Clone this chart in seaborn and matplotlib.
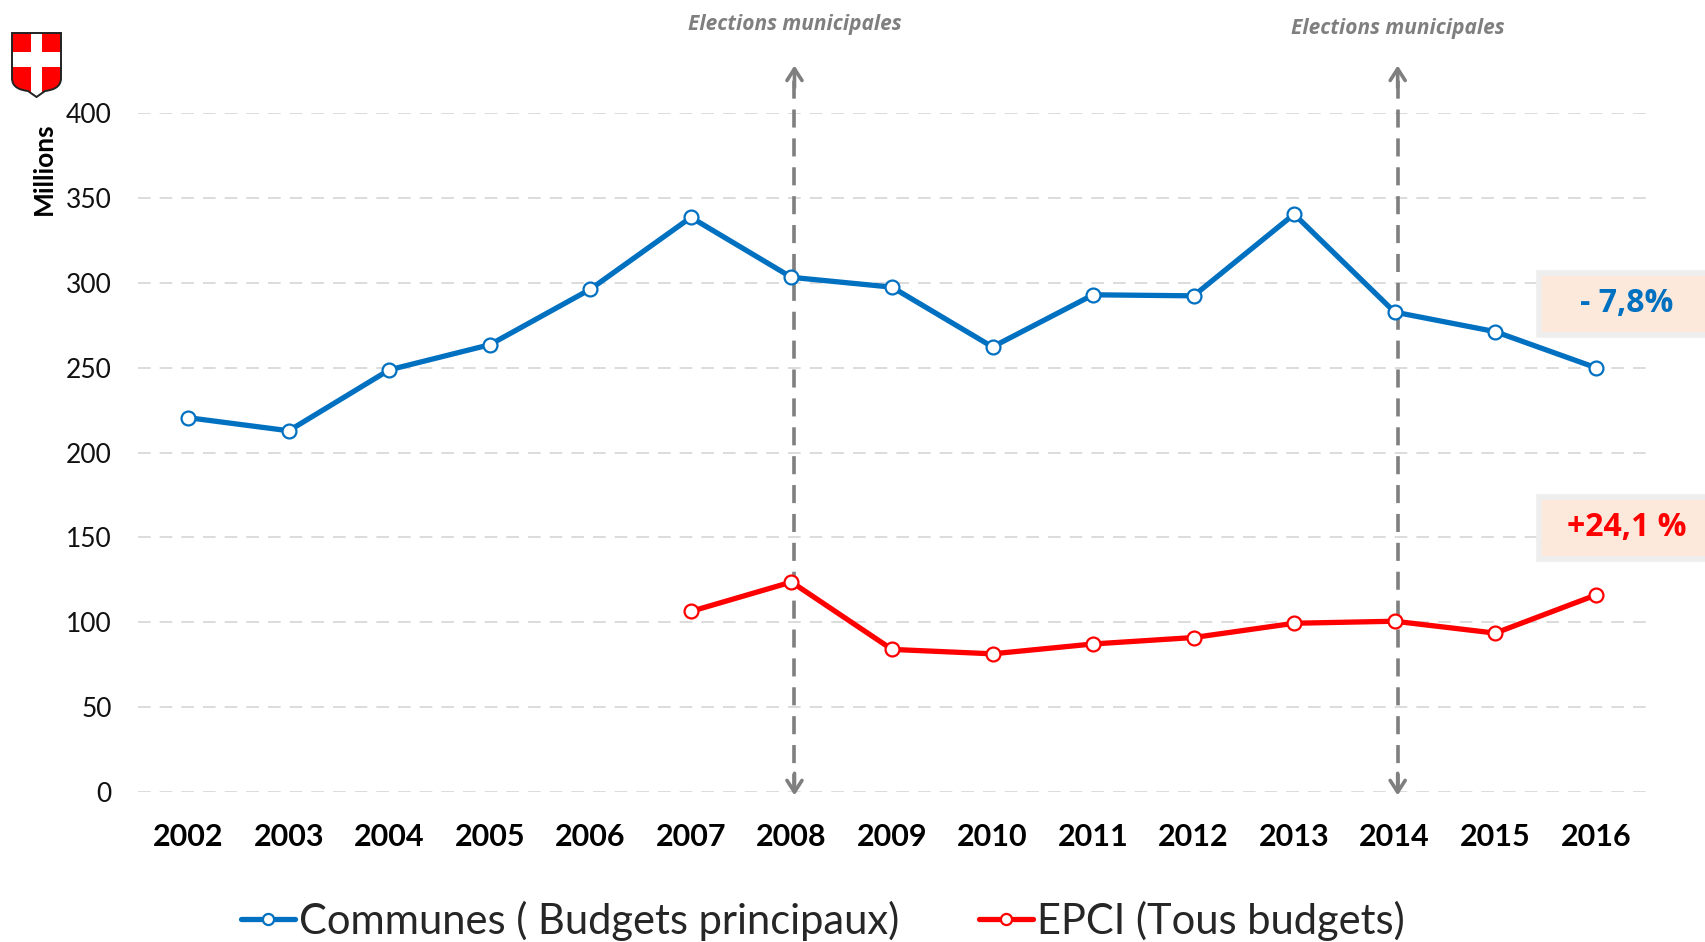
import matplotlib
matplotlib.use("Agg")
import matplotlib.pyplot as plt
from matplotlib.path import Path
from matplotlib.patches import PathPatch, Rectangle
import numpy as np
import pandas as pd
import seaborn as sns

# --- data (millions) ---
years = [2002, 2003, 2004, 2005, 2006, 2007, 2008, 2009, 2010, 2011, 2012, 2013, 2014, 2015, 2016]
communes = [220.5, 212.8, 248.7, 263.5, 296.2, 338.5, 303.2, 297.4, 262.2, 292.9, 292.3, 340.4, 282.7, 271.2, 250.0]
epci_years = [2007, 2008, 2009, 2010, 2011, 2012, 2013, 2014, 2015, 2016]
epci = [106.4, 123.7, 84.0, 81.4, 87.2, 91.0, 99.4, 100.6, 93.6, 116.0]
series_names = ["Communes ( Budgets principaux)", "EPCI (Tous budgets)"]
series_colors = ["#0070C0", "#FF0000"]
election_years = [2008, 2014]
election_label = "Elections municipales"
change_labels = ["- 7,8%", "+24,1 %"]
y_ticks = [0, 50, 100, 150, 200, 250, 300, 350, 400]

sns.set_theme(style="white")
plt.rcParams["font.family"] = ["Lato", "DejaVu Sans"]

W, H = 1706, 942
fig = plt.figure(figsize=(W / 100, H / 100), dpi=100)
ax = fig.add_axes([138 / W, 1 - 792 / H, (1646 - 138) / W, (792 - 113) / H])

df_c = pd.DataFrame({"year": years, "value": communes})
df_e = pd.DataFrame({"year": epci_years, "value": epci})

common = dict(marker="o", markersize=10, markerfacecolor="white",
              markeredgewidth=1.6, linewidth=3.8, zorder=5)
sns.lineplot(data=df_c, x="year", y="value", ax=ax, color=series_colors[0],
             markeredgecolor=series_colors[0], label=series_names[0], **common)
sns.lineplot(data=df_e, x="year", y="value", ax=ax, color=series_colors[1],
             markeredgecolor=series_colors[1], label=series_names[1], **common)

ax.set_xlim(years[0] - 0.5, years[-1] + 0.5)
ax.set_ylim(0, 400)
ax.set_xticks(years)
ax.set_xticklabels([str(y) for y in years], fontsize=22, fontweight="bold", color="black")
ax.set_yticks(y_ticks)
ax.set_yticklabels([str(v) for v in y_ticks], fontsize=19, color="#111111")
ax.tick_params(axis="x", length=0, pad=22)
ax.tick_params(axis="y", length=0, pad=19)
ax.set_xlabel("")
ax.set_ylabel("")
for s in ax.spines.values():
    s.set_visible(False)
ax.grid(False)
for v in y_ticks:
    ax.axhline(v, color="#D9D9D9", lw=1.3, ls=(0, (7, 5)), zorder=1)

# election markers: dashed double arrows
for yr, ty in zip(election_years, [452, 450]):
    x = yr + 0.03
    ax.plot([x, x], [0, 426], color="#7F7F7F", lw=2.6, ls=(0, (5, 3)),
            clip_on=False, zorder=4)
    for tip, tail in [(428, 415), (-2, 11)]:
        ax.annotate("", xy=(x, tip), xytext=(x, tail),
                    arrowprops=dict(arrowstyle="->,head_length=0.7,head_width=0.45",
                                    color="#7F7F7F", lw=2.6, shrinkA=0, shrinkB=0),
                    annotation_clip=False, zorder=4)
    ax.text(x, ty, election_label, ha="center", va="center", fontsize=15,
            fontweight="bold", fontstyle="italic", color="#7F7F7F",
            family=["Open Sans", "DejaVu Sans"], clip_on=False)

# y axis title near the top
fig.text(44 / W, 1 - 169 / H, "Millions", rotation=90, ha="center", va="center",
         fontsize=19, fontweight="bold", color="black")

# change boxes on the right
for (ytop, ybot), label, col in zip([(273, 335), (497, 559)], change_labels, series_colors):
    fig.patches.append(Rectangle((1539 / W, 1 - ybot / H), (1730 - 1539) / W, (ybot - ytop) / H,
                                 transform=fig.transFigure, facecolor="#FCE9DB",
                                 edgecolor="#EEEEEE", linewidth=4, zorder=0))
    fig.text(1627 / W, 1 - (ytop + ybot) / 2 / H, label, ha="center", va="center",
             fontsize=23, fontweight="bold", color=col,
             family=["Open Sans", "DejaVu Sans"])

# coat of arms (Savoie cross)
iax = fig.add_axes([11 / W, 1 - 98 / H, 51 / W, 66 / H])
iax.set_xlim(-1, 50)
iax.set_ylim(65, -1)
iax.axis("off")
verts = [(0, 0), (49, 0), (49, 45), (49, 55), (40, 57), (33, 58), (24.5, 64),
         (16, 58), (9, 57), (0, 55), (0, 45), (0, 0)]
codes = [Path.MOVETO, Path.LINETO, Path.LINETO, Path.CURVE4, Path.CURVE4, Path.CURVE4,
         Path.LINETO, Path.LINETO, Path.CURVE4, Path.CURVE4, Path.CURVE4, Path.CLOSEPOLY]
shield = Path(verts, codes)
iax.add_patch(PathPatch(shield, facecolor="#FF0000", edgecolor="none"))
clip = PathPatch(shield, transform=iax.transData, facecolor="none", edgecolor="none")
iax.add_patch(clip)
for r in [Rectangle((19, -2), 11, 70, facecolor="white", edgecolor="none"),
          Rectangle((-2, 19), 53, 15, facecolor="white", edgecolor="none")]:
    iax.add_patch(r)
    r.set_clip_path(clip)
iax.add_patch(PathPatch(shield, facecolor="none", edgecolor="#222222", lw=1.4))

# legend at the bottom
handles, labels = ax.get_legend_handles_labels()
ax.get_legend().remove()
fig.legend(handles, labels, loc="center", bbox_to_anchor=(823 / W, 1 - 921 / H),
           ncol=2, frameon=False, fontsize=30, handlelength=1.3, handletextpad=0.1,
           columnspacing=1.9, markerscale=0.8)

fig.savefig("out.png", dpi=100, facecolor="white")
